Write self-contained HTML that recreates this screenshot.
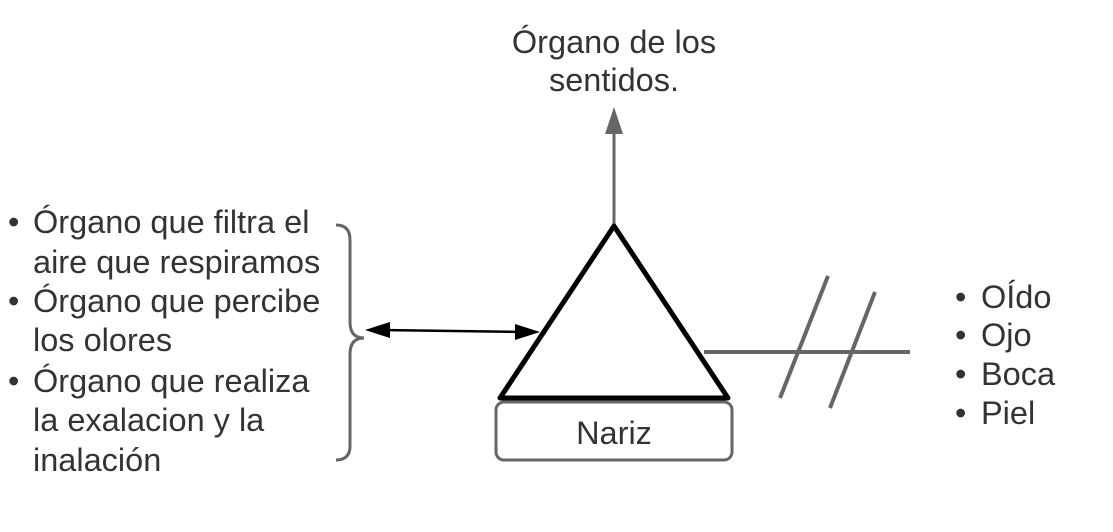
<!DOCTYPE html>
<html><head><meta charset="utf-8"><style>
body{margin:0;background:#fff;}
svg{display:block;}
text{font-family:"Liberation Sans",sans-serif;fill:#333;font-size:32.5px;}
</style></head><body>
<svg width="1113" height="532" viewBox="0 0 1113 532">
<text x="614" y="53" text-anchor="middle">Órgano de los</text>
<text x="614" y="91" text-anchor="middle">sentidos.</text>
<line x1="614" y1="224" x2="614" y2="130" stroke="#666" stroke-width="3"/>
<polygon points="614,107 605,134 623,134" fill="#666"/>
<polygon points="614,226 500,398 728,398" fill="none" stroke="#000" stroke-width="5" stroke-linejoin="round"/>
<rect x="496" y="402" width="236" height="58" rx="8" fill="none" stroke="#666" stroke-width="3"/>
<text x="614" y="444" text-anchor="middle" font-size="30">Nariz</text>
<g>
<text x="8" y="233">•</text><text x="33" y="233">Órgano que filtra el</text>
<text x="33" y="273">aire que respiramos</text>
<text x="8" y="312">•</text><text x="33" y="312">Órgano que percibe</text>
<text x="33" y="351">los olores</text>
<text x="8" y="392">•</text><text x="33" y="392">Órgano que realiza</text>
<text x="33" y="431">la exalacion y la</text>
<text x="33" y="471">inalación</text>
</g>
<path d="M336,225 Q350,225 350,240 L350,322 Q350,338 364,338 Q350,338 350,354 L350,446 Q350,460 336,460" fill="none" stroke="#666" stroke-width="3"/>
<line x1="380" y1="330" x2="525" y2="332" stroke="#000" stroke-width="2.5"/>
<polygon points="365,330 390,322 390,338" fill="#000"/>
<polygon points="540,332 515,324 515,340" fill="#000"/>
<line x1="704" y1="352" x2="910" y2="352" stroke="#666" stroke-width="4"/>
<line x1="828" y1="276" x2="780" y2="398" stroke="#666" stroke-width="4"/>
<line x1="875" y1="292" x2="830" y2="408" stroke="#666" stroke-width="4"/>
<text x="955" y="308">•</text><text x="981" y="308">OÍdo</text>
<text x="955" y="346">•</text><text x="981" y="346">Ojo</text>
<text x="955" y="385">•</text><text x="981" y="385">Boca</text>
<text x="955" y="424">•</text><text x="981" y="424">Piel</text>
</svg>
</body></html>
